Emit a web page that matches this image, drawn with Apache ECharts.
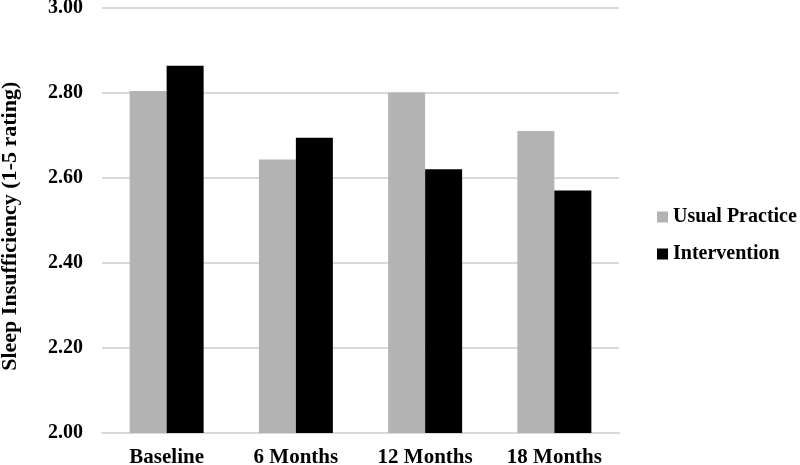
<!DOCTYPE html>
<html>
<head>
<meta charset="utf-8">
<script src="https://cdn.jsdelivr.net/npm/echarts@6/dist/echarts.min.js"></script>
<style>html,body{margin:0;padding:0;background:#fff;}#c{width:800px;height:465px;}</style>
</head>
<body>
<div id="c"></div>
<script>
var categories = ['Baseline', '6 Months', '12 Months', '18 Months'];
var usualPractice = [2.804, 2.643, 2.80, 2.71];
var intervention = [2.863, 2.694, 2.62, 2.57];
var yTicks = ['2.00', '2.20', '2.40', '2.60', '2.80', '3.00'];

var font = '"Liberation Serif", "Times New Roman", serif';
var chart = echarts.init(document.getElementById('c'));
chart.setOption({
  animation: false,
  backgroundColor: '#fff',
  grid: { left: 102, right: 181, top: 7.5, bottom: 32, containLabel: false, outerBoundsMode: 'none' },
  legend: {
    orient: 'vertical', left: 652, top: 202,
    itemWidth: 11, itemHeight: 11, itemGap: 17,
    icon: 'rect',
    textStyle: { fontFamily: font, fontWeight: 'bold', fontSize: 20, color: '#000', padding: [0,0,0,0] },
    data: ['Usual Practice', 'Intervention']
  },
  xAxis: {
    type: 'category', data: categories,
    axisLine: { show: true, lineStyle: { color: '#d9d9d9', width: 2 } },
    axisTick: { show: false },
    axisLabel: { fontFamily: font, fontWeight: 'bold', fontSize: 21, color: '#000', margin: 14 }
  },
  yAxis: {
    type: 'value', min: 2.0, max: 3.0, interval: 0.2,
    name: 'Sleep Insufficiency (1-5 rating)', nameLocation: 'middle', nameGap: 81, nameRotate: 90,
    nameTextStyle: { fontFamily: font, fontWeight: 'bold', fontSize: 22, color: '#000', padding: [0, 12, 0, 0] },
    axisLine: { show: false }, axisTick: { show: false },
    splitLine: { lineStyle: { color: '#d9d9d9', width: 2 } },
    axisLabel: { fontFamily: font, fontWeight: 'bold', fontSize: 20, color: '#000', margin: 19,
      formatter: function (v) { return yTicks[Math.round((v - 2) / 0.2)] || v.toFixed(2); } }
  },
  series: [
    { name: 'Usual Practice', type: 'bar', data: usualPractice, barWidth: 37, barGap: '0%', itemStyle: { color: '#b3b3b3' } },
    { name: 'Intervention', type: 'bar', data: intervention, barWidth: 37, barGap: '0%', itemStyle: { color: '#000000' } }
  ]
});
</script>
</body>
</html>
